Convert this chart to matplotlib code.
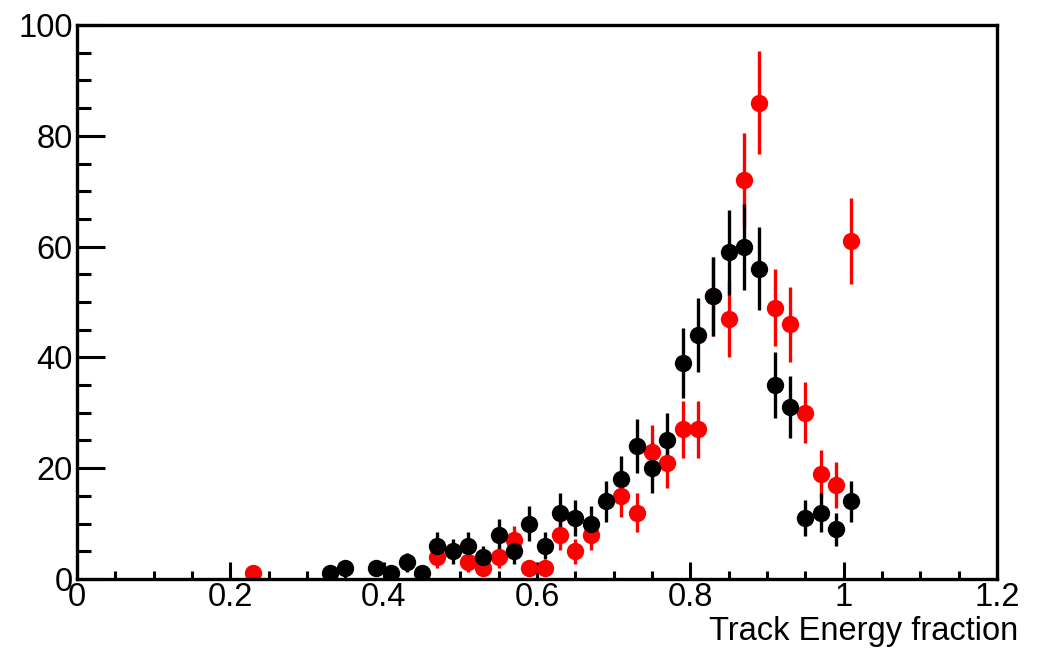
import numpy as np
import matplotlib
matplotlib.use("Agg")
import matplotlib.pyplot as plt
from matplotlib.ticker import MultipleLocator

plt.rcParams['font.family'] = ['Liberation Sans', 'DejaVu Sans']

# bin centres (width 0.02) and counts for the two samples
red_x = [0.23, 0.47, 0.51, 0.53, 0.55, 0.57, 0.59, 0.61, 0.63, 0.65, 0.67,
         0.71, 0.73, 0.75, 0.77, 0.79, 0.81, 0.83, 0.85, 0.87, 0.89, 0.91,
         0.93, 0.95, 0.97, 0.99, 1.01]
red_n = [1, 4, 3, 2, 4, 7, 2, 2, 8, 5, 8,
         15, 12, 23, 21, 27, 27, 51, 47, 72, 86, 49,
         46, 30, 19, 17, 61]

black_x = [0.33, 0.35, 0.39, 0.41, 0.43, 0.45, 0.47, 0.49, 0.51, 0.53, 0.55,
           0.57, 0.59, 0.61, 0.63, 0.65, 0.67, 0.69, 0.71, 0.73, 0.75, 0.77,
           0.79, 0.81, 0.83, 0.85, 0.87, 0.89, 0.91, 0.93, 0.95, 0.97, 0.99,
           1.01]
black_n = [1, 2, 2, 1, 3, 1, 6, 5, 6, 4, 8,
           5, 10, 6, 12, 11, 10, 14, 18, 24, 20, 25,
           39, 44, 51, 59, 60, 56, 35, 31, 11, 12, 9,
           14]

fs = 23.5

fig = plt.figure(figsize=(10.53, 6.48), dpi=100)
ax = fig.add_axes([0.0731, 0.1065, 0.8737, 0.8549])

for xs, ns, col in [(red_x, red_n, '#ff0000'), (black_x, black_n, '#000000')]:
    ns = np.array(ns, dtype=float)
    ax.errorbar(xs, ns, yerr=np.sqrt(ns), fmt='o', color=col, ms=12.5,
                elinewidth=2.4, capsize=0, mew=0)

ax.set_xlim(0, 1.2)
ax.set_ylim(0, 100)

ax.xaxis.set_major_locator(MultipleLocator(0.2))
ax.xaxis.set_minor_locator(MultipleLocator(0.05))
ax.yaxis.set_major_locator(MultipleLocator(20))
ax.yaxis.set_minor_locator(MultipleLocator(5))
ax.xaxis.set_major_formatter(plt.FuncFormatter(lambda v, p: f"{v:g}"))

ax.tick_params(axis='x', which='major', direction='in', length=12, width=2.2,
               labelsize=fs, pad=2.5)
ax.tick_params(axis='x', which='minor', direction='in', length=6, width=2.2)
ax.tick_params(axis='y', which='major', direction='in', length=20, width=2.2,
               labelsize=fs, pad=3)
ax.tick_params(axis='y', which='minor', direction='in', length=10, width=2.2)
ax.tick_params(top=False, right=False, which='both')

for sp in ax.spines.values():
    sp.set_linewidth(2.4)

fig.text(0.9668, 1 - 640 / 648, 'Track Energy fraction', ha='right',
         va='baseline', fontsize=fs)

fig.savefig('out.png', dpi=100)
